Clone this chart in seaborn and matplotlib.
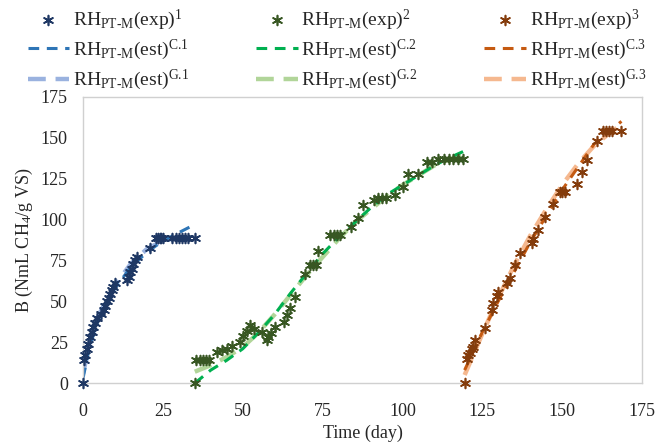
import numpy as np
import pandas as pd
import matplotlib
matplotlib.use("Agg")
import matplotlib.pyplot as plt
import seaborn as sns

# ─── Data ────────────────────────────────────────────────────

# experimental points, digester 1 (blue)
day_exp1 = [0, 0.3, 0.7, 1.2, 1.7, 2.2, 2.7, 3.2, 3.7, 4.3, 5.5, 6.5, 7.0, 7.5, 8.0,
            8.5, 9.0, 9.5, 10.0, 13.8, 14.3, 14.8, 15.3, 15.8, 16.3, 16.8, 21.0, 23.0,
            23.5, 24.0, 24.5, 25.0, 28, 29, 30, 31, 32, 33, 35]
b_exp1 = [0, 14, 17, 21, 24, 28, 31, 34.5, 37, 39.6, 42, 44.5, 47, 50, 52,
          54.5, 57, 59, 61, 63, 65, 68, 70, 73, 75, 77.3, 82.4, 88.5,
          88.5, 88.5, 88.5, 88.5, 88.5, 88.5, 88.5, 88.5, 88.5, 88.5, 88.5]

# experimental points, digester 2 (green)
day_exp2 = [35, 35.5, 36.5, 37.5, 38.5, 39.5, 42, 43.5, 45, 46.5, 49, 50, 51.5, 52.3,
            53.5, 56, 57.5, 58, 59, 60, 63, 63.8, 64.8, 66.4, 69.5, 71, 72, 73, 73.7,
            77.3, 78.5, 79.5, 80.5, 84, 86.2, 87.8, 91, 92.5, 93.5, 95, 97.7, 100.3,
            101.9, 105, 107.6, 109.2, 111.2, 113, 114.5, 116, 117.5, 119]
b_exp2 = [0, 14, 14, 14, 14, 14, 19, 20, 21, 23, 25, 29, 32, 35.5,
          33, 31.4, 26.3, 28, 30.4, 34.5, 37.5, 41.6, 45.7, 52.8, 67, 72, 72, 72, 81,
          90.5, 90.5, 90.5, 90.5, 95.6, 100.8, 109, 112, 113, 113, 113, 115, 120,
          128, 128, 135.4, 135.4, 137, 137, 137, 137, 137, 137]

# experimental points, digester 3 (orange)
day_exp3 = [119.5, 120.1, 120.7, 121.2, 121.8, 122.2, 122.7, 125.9, 128, 128.5, 129.5,
            130, 132.7, 133.7, 135.3, 136.8, 140.5, 141, 142.6, 144.6, 147.3, 149.3,
            150.1, 150.9, 154.6, 156.1, 157.7, 160.8, 162.9, 163.8, 164.7, 165.6, 168.6]
b_exp3 = [0, 15, 17, 18.5, 21, 22, 26.3, 33.5, 44.7, 48.8, 53,
          56, 61, 64, 72.2, 79.4, 85.9, 88, 93.6, 101.8, 109.4, 117,
          117, 117, 122, 129.3, 136.5, 147.7, 153.8, 153.8, 153.8, 153.8, 153.8]

# estimated curves (C = first model, G = second model)
day_est1 = [0, 2, 5, 10, 15, 20, 25, 30, 35]
b_c1 = [3, 22, 40, 58, 71, 80, 87, 92, 97]
b_g1 = [6, 24, 42, 60, 73, 82, 87, 89, 89.5]

day_est2 = [35, 40, 45, 50, 55, 60, 65, 70, 75, 80, 85, 90, 95, 100, 105, 110, 115, 119]
b_c2 = [0, 8, 14, 21, 31, 42, 55, 67, 79, 89, 98, 107, 115, 121, 127, 133, 138, 141.5]
b_g2 = [7, 11, 16, 22, 31, 42, 54, 66, 77, 88, 98, 106, 114, 121, 127, 133, 137, 140]

day_est3 = [119.5, 125, 130, 135, 140, 145, 150, 155, 160, 165, 168.6]
b_c3 = [8, 31, 50, 68, 86, 102, 118, 132, 146, 154, 160]
b_g3 = [5, 30, 52, 72, 90, 106, 121, 134, 145, 153, 158]

SUB = r"RH$_{\mathrm{PT\text{-}M}}$"
labels_exp = [SUB + r"(exp)$^{1}$", SUB + r"(exp)$^{2}$", SUB + r"(exp)$^{3}$"]
labels_c = [SUB + r"(est)$^{\text{C.1}}$", SUB + r"(est)$^{\text{C.2}}$", SUB + r"(est)$^{\text{C.3}}$"]
labels_g = [SUB + r"(est)$^{\text{G.1}}$", SUB + r"(est)$^{\text{G.2}}$", SUB + r"(est)$^{\text{G.3}}$"]

# ─── Style ───────────────────────────────────────────────────

sns.set_style("white")
plt.rcParams["font.family"] = ["Liberation Serif", "DejaVu Serif"]
plt.rcParams["mathtext.fontset"] = "custom"
plt.rcParams["mathtext.rm"] = "Liberation Serif"
plt.rcParams["mathtext.it"] = "Liberation Serif:italic"
plt.rcParams["mathtext.bf"] = "Liberation Serif:bold"

COL_EXP = ["#1F3864", "#385723", "#843C0C"]
COL_C = ["#2E75B6", "#00B050", "#C55A11"]
COL_G = ["#8FAADC", "#A9D18E", "#F4B183"]

fig = plt.figure(figsize=(6.59, 4.44), dpi=100)
ax = fig.add_axes([0.126, 0.137, 0.848, 0.645])

exp_sets = [(day_exp1, b_exp1), (day_exp2, b_exp2), (day_exp3, b_exp3)]
est_sets = [(day_est1, b_c1, b_g1), (day_est2, b_c2, b_g2), (day_est3, b_c3, b_g3)]

for i in range(3):
    d_est, c_vals, g_vals = est_sets[i]
    df_est = pd.DataFrame({"day": d_est, "C": c_vals, "G": g_vals})
    sns.lineplot(data=df_est, x="day", y="G", ax=ax, color=COL_G[i], linewidth=3.2,
                 linestyle=(0, (4, 2.2)), label=labels_g[i], alpha=0.9)
    sns.lineplot(data=df_est, x="day", y="C", ax=ax, color=COL_C[i], linewidth=2.2,
                 linestyle=(0, (3.5, 2.5)), label=labels_c[i])
    d_exp, b_vals = exp_sets[i]
    df_exp = pd.DataFrame({"day": d_exp, "B": b_vals})
    sns.scatterplot(data=df_exp, x="day", y="B", ax=ax, marker=(6, 2, 0), s=50,
                    color=COL_EXP[i], linewidth=1.2, label=labels_exp[i],
                    clip_on=False, zorder=5)

h, l = ax.get_legend_handles_labels()
lookup = dict(zip(l, h))
order = []
for i in range(3):
    order += [labels_exp[i], labels_c[i], labels_g[i]]
ax.get_legend().remove()
fig.legend([lookup[k] for k in order], order, ncol=3, loc="upper left",
           bbox_to_anchor=(0.030, 1.0), frameon=False, fontsize=14,
           handlelength=2.15, handletextpad=0.2, columnspacing=3.4,
           labelspacing=0.3, borderaxespad=0)

ax.set_xlim(0, 175)
ax.set_ylim(0, 175)
ax.set_xticks(np.arange(0, 176, 25))
ax.set_yticks(np.arange(0, 176, 25))
ax.tick_params(axis="x", labelsize=13, length=0, pad=14)
ax.tick_params(axis="y", labelsize=13, length=0, pad=11)
ax.set_xlabel("Time (day)", fontsize=13, labelpad=4)
ax.set_ylabel(r"B (NmL CH$_4$/g VS)", fontsize=13, labelpad=4)
for sp in ax.spines.values():
    sp.set_color("#D0D0D0")
    sp.set_linewidth(1.0)

fig.savefig("out.png", dpi=100)
